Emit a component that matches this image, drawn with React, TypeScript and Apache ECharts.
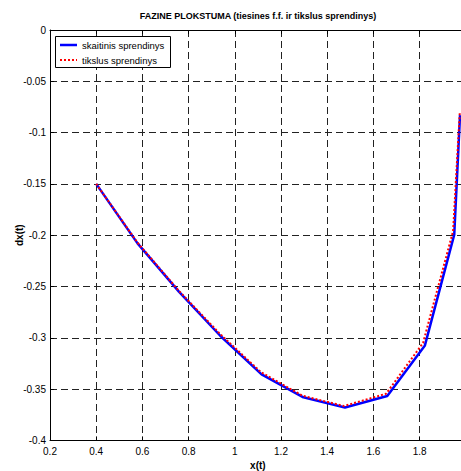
import React, { useEffect, useRef } from "react";
import * as echarts from "echarts";

const xNumeric = [0.4, 0.579, 0.758, 0.937, 1.116, 1.297, 1.477, 1.66, 1.823, 1.95, 1.975];
const yNumeric = [-0.15, -0.208, -0.255, -0.298, -0.3356, -0.358, -0.368, -0.3567, -0.3074, -0.1994, -0.083];
const xExact = [0.4, 0.578, 0.757, 0.935, 1.113, 1.293, 1.473, 1.655, 1.815, 1.945, 1.974];
const yExact = [-0.15, -0.207, -0.254, -0.296, -0.3335, -0.3565, -0.3665, -0.3545, -0.305, -0.196, -0.08];

const seriesNames = ["skaitinis sprendinys", "tikslus sprendinys"];
const titleText = "FAZINE PLOKSTUMA (tiesines f.f. ir tikslus sprendinys)";
const xName = "x(t)";
const yName = "dx(t)";

const FONT = "'Liberation Sans', Arial, sans-serif";

export default function App() {
  const ref = useRef<HTMLDivElement>(null);
  useEffect(() => {
    if (!ref.current) return;
    const chart = echarts.init(ref.current, undefined, { renderer: "svg" });
    const blue = xNumeric.map((x, i) => [x, yNumeric[i]]);
    const red = xExact.map((x, i) => [x, yExact[i]]);
    const gridLine = { show: true, lineStyle: { color: "#222", width: 1, type: [7, 4] as any } };
    const LZ = 100;
    chart.setOption({
      animation: false,
      backgroundColor: "#fff",
      grid: {
        left: 50,
        top: 30,
        width: 415.8,
        height: 410.4,
        show: false,
        containLabel: false,
        outerBoundsMode: "none",
      },
      graphic: [
        {
          type: "text",
          x: 258,
          y: 16,
          style: {
            text: titleText,
            fontFamily: FONT,
            fontWeight: "bold",
            fontSize: 9,
            fill: "#000",
            align: "center",
            verticalAlign: "middle",
          },
        },
        {
          type: "rect",
          z: LZ,
          shape: { x: 55.5, y: 36.5, width: 115, height: 31 },
          style: { fill: "#fff", stroke: "#000", lineWidth: 1 },
        },
        {
          type: "line",
          z: LZ + 1,
          shape: { x1: 60, y1: 45, x2: 77, y2: 45 },
          style: { stroke: "#0000ff", lineWidth: 2.5 },
        },
        {
          type: "line",
          z: LZ + 1,
          shape: { x1: 60, y1: 60, x2: 77, y2: 60 },
          style: { stroke: "#ff0000", lineWidth: 2, lineDash: [2, 2] },
        },
        {
          type: "text",
          z: LZ + 1,
          x: 82,
          y: 45,
          style: { text: seriesNames[0], fontFamily: FONT, fontSize: 9.5, fill: "#000", verticalAlign: "middle" },
        },
        {
          type: "text",
          z: LZ + 1,
          x: 82,
          y: 60,
          style: { text: seriesNames[1], fontFamily: FONT, fontSize: 9.5, fill: "#000", verticalAlign: "middle" },
        },
      ],
      xAxis: [
        {
          type: "value",
          min: 0.2,
          max: 2,
          interval: 0.2,
          position: "bottom",
          name: xName,
          nameLocation: "middle",
          nameGap: 20,
          nameMoveOverlap: false,
          nameTextStyle: { fontFamily: FONT, fontWeight: "bold", fontSize: 10, color: "#000" },
          axisLine: { show: true, onZero: false, lineStyle: { color: "#000", width: 1 } },
          axisTick: { show: true, inside: true, length: 4, lineStyle: { color: "#000" } },
          axisLabel: { fontFamily: FONT, fontSize: 10, color: "#000", margin: 6, showMaxLabel: false },
          splitLine: gridLine,
        },
        {
          type: "value",
          min: 0.2,
          max: 2,
          interval: 0.2,
          position: "top",
          axisLine: { show: true, onZero: false, lineStyle: { color: "#000", width: 1 } },
          axisTick: { show: true, inside: true, length: 4, lineStyle: { color: "#000" } },
          axisLabel: { show: false },
          splitLine: { show: false },
        },
      ],
      yAxis: {
        type: "value",
        min: -0.4,
        max: 0,
        interval: 0.05,
        name: yName,
        nameLocation: "middle",
        nameGap: 26,
        nameMoveOverlap: false,
        nameTextStyle: { fontFamily: FONT, fontWeight: "bold", fontSize: 10, color: "#000" },
        axisLine: { show: true, onZero: false, lineStyle: { color: "#000", width: 1 } },
        axisTick: { show: true, inside: true, length: 4, lineStyle: { color: "#000" } },
        axisLabel: { fontFamily: FONT, fontSize: 10, color: "#000", margin: 4 },
        splitLine: gridLine,
      },
      series: [
        {
          name: seriesNames[0],
          type: "line",
          data: blue,
          symbol: "none",
          lineStyle: { color: "#0000ff", width: 2.5 },
          itemStyle: { color: "#0000ff" },
          z: 2,
        },
        {
          name: seriesNames[1],
          type: "line",
          data: red,
          symbol: "none",
          lineStyle: { color: "#ff0000", width: 2, type: [2, 2] },
          itemStyle: { color: "#ff0000" },
          z: 3,
        },
      ],
    } as any);
    return () => chart.dispose();
  }, []);
  return (
    <div style={{ position: "fixed", left: 0, top: 0, width: 461, height: 471, overflow: "hidden", background: "#fff" }}>
      <div ref={ref} style={{ width: 470, height: 471 }} />
    </div>
  );
}
